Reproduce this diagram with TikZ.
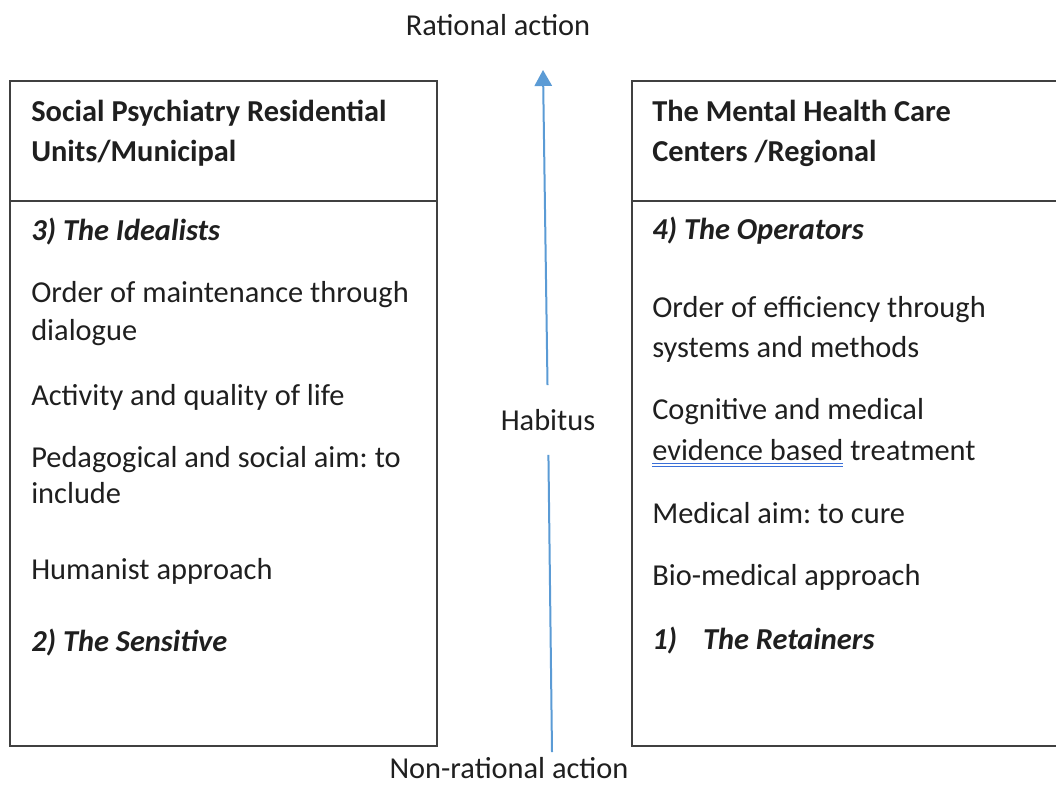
\documentclass[tikz,border=0pt]{standalone}
\usepackage{fontspec}
\setmainfont{Carlito}
\usetikzlibrary{arrows.meta}
\definecolor{framegray}{HTML}{404040}
\definecolor{arrowblue}{HTML}{5B9BD5}
\definecolor{spellblue}{HTML}{3A6FD8}
\frenchspacing
\newcommand\dblul[1]{\setbox0\hbox{#1}%
  \rlap{\color{spellblue}\rule[-3.0pt]{\wd0}{0.9pt}}%
  \rlap{\color{spellblue}\rule[-5.6pt]{\wd0}{0.9pt}}\box0\relax}

\begin{document}
\begin{tikzpicture}[x=0.75pt,y=-0.75pt,
  txt/.style={anchor=base west,inner sep=0pt,text=black!88,
    font=\fontsize{22.8}{27}\selectfont},
  hd/.style={txt,font=\fontsize{22.8}{27}\selectfont\bfseries},
  grp/.style={txt,font=\fontsize{22.8}{27}\selectfont\bfseries\itshape},
  frame/.style={draw=framegray,line width=1.1pt}]
\useasboundingbox (0,0) rectangle (1056,785);
% two frames
\draw[frame] (10,81) rectangle (437,746);
\draw[frame] (10,201) -- (437,201);
\draw[frame] (632,81) rectangle (1080,746);
\draw[frame] (632,201) -- (1080,201);
% left column
\node[hd] (lhead1) at (31,121) {Social Psychiatry Residential};
\node[hd] (lhead2) at (31,161) {Units/Municipal};
\node[grp] (idealists) at (31,240) {3) The Idealists};
\foreach \y/\t in {302/Order of maintenance through, 340/dialogue,
    405/Activity and quality of life, 467/Pedagogical and social aim: to,
    503/include, 579/Humanist approach}
  \node[txt] (l\y) at (31,\y) {\t};
\node[grp] (sensitive) at (31,651) {2) The Sensitive};
% right column
\node[hd] (rhead1) at (652,121) {The Mental Health Care};
\node[hd] (rhead2) at (652,161) {Centers /Regional};
\node[grp] (operators) at (652,239) {4) The Operators};
\foreach \y/\t in {317/Order of efficiency through, 357/systems and methods,
    419/Cognitive and medical, 523/Medical aim: to cure,
    585/Bio-medical approach}
  \node[txt] (r\y) at (652,\y) {\t};
\node[txt] (r460) at (652,460) {\dblul{evidence based} treatment};
\node[grp] (retainers) at (652,649) {1)\hspace{0.85em}The Retainers};
% habitus axis
\node[txt,anchor=base] (rational) at (498,35) {Rational action};
\node[txt,anchor=base] (nonrational) at (509,778) {Non-rational action};
\node[font=\fontsize{22.8}{27}\selectfont,text=black!88,minimum height=52pt,
  inner sep=0pt] (habitus) at (548,420) {Habitus};
\coordinate (top) at (543,70);
\coordinate (bot) at (552,752);
\draw[arrowblue,line width=1.5pt] (bot) -- (habitus);
\draw[arrowblue,line width=1.5pt,-{Triangle[width=13pt,length=12pt]}] (habitus) -- (top);
\end{tikzpicture}
\end{document}
